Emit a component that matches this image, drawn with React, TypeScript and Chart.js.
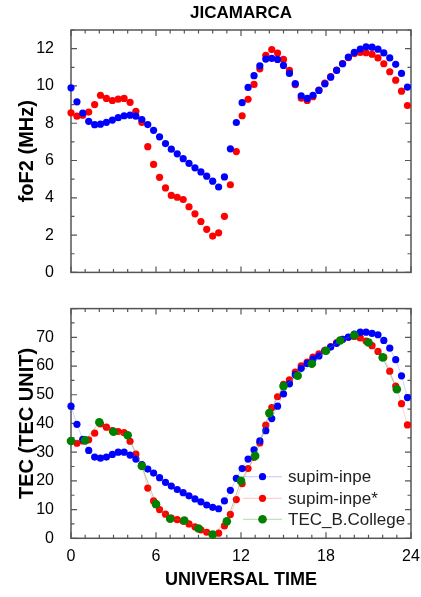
import React, { useEffect, useRef } from 'react';
import { Chart, registerables } from 'chart.js';

Chart.register(...registerables);

// Universal time (hours) of model points
const hours = [
  0, 0.42, 0.83, 1.25, 1.67, 2.08, 2.5, 2.92, 3.33, 3.75, 4.17, 4.58, 5, 5.42, 5.83,
  6.25, 6.67, 7.08, 7.5, 7.92, 8.33, 8.75, 9.17, 9.58, 10, 10.42, 10.83, 11.25, 11.67,
  12.08, 12.5, 12.92, 13.33, 13.75, 14.17, 14.58, 15, 15.42, 15.83, 16.25, 16.67, 17.08,
  17.5, 17.92, 18.33, 18.75, 19.17, 19.58, 20, 20.42, 20.83, 21.25, 21.67, 22.08, 22.5,
  22.92, 23.33, 23.75,
];

const foF2Inpe = [
  9.9, 9.15, 8.55, 8.1, 7.92, 7.95, 8.05, 8.17, 8.3, 8.4, 8.43, 8.38, 8.2, 7.93, 7.62,
  7.27, 6.91, 6.61, 6.36, 6.1, 5.85, 5.61, 5.39, 5.16, 4.89, 4.58, 5.12, 6.63, 8.04,
  9.1, 9.92, 10.55, 11.08, 11.44, 11.48, 11.42, 11.1, 10.67, 10.12, 9.47, 9.33, 9.5,
  9.76, 10.11, 10.47, 10.83, 11.19, 11.54, 11.8, 11.98, 12.1, 12.08, 11.97, 11.77, 11.5,
  11.16, 10.67, 9.94,
];

const foF2InpeStar = [
  8.56, 8.38, 8.43, 8.6, 9.0, 9.5, 9.33, 9.22, 9.29, 9.33, 9.12, 8.64, 8.05, 6.74, 5.79,
  5.1, 4.53, 4.13, 4.03, 3.91, 3.52, 3.14, 2.73, 2.31, 1.95, 2.12, 3.01, 4.7, 6.48,
  8.4, 9.28, 10.08, 10.92, 11.64, 11.95, 11.76, 11.42, 10.83, 10.07, 9.35, 9.22, 9.42,
  9.78, 10.15, 10.5, 10.85, 11.2, 11.52, 11.74, 11.8, 11.78, 11.7, 11.5, 11.19, 10.76,
  10.31, 9.72, 8.95,
];

const tecInpe = [
  46.0, 39.7, 34.5, 30.6, 28.3, 27.9, 28.3, 29.2, 30.0, 30.0, 29.0, 27.6, 25.7, 24.1, 22.7,
  21.1, 19.5, 18.2, 17.0, 15.9, 14.8, 13.7, 12.7, 11.6, 10.8, 10.3, 13.0, 16.7, 20.9,
  24.3, 27.6, 30.8, 33.9, 37.5, 41.7, 46.0, 50.3, 53.8, 57.0, 59.2, 60.9, 62.4,
  63.5, 65.3, 66.6, 67.9, 69.3, 70.1, 71.1, 71.8, 71.8, 71.4, 70.9, 68.9, 66.2,
  62.2, 56.6, 49.0,
];

const tecInpeStar = [
  33.9, 33.1, 33.9, 34.3, 36.6, 39.8, 38.7, 37.5, 37.2, 36.8, 33.8, 29.3, 25.5, 17.5, 13.0,
  10.0, 8.4, 7.0, 6.5, 5.9, 5.0, 4.0, 2.9, 2.1, 1.2, 1.8, 4.3, 8.3, 13.5,
  19.0, 24.3, 28.2, 33.2, 39.4, 45.5, 49.3, 53.6, 55.2, 57.9, 60.1, 61.4, 63.1,
  64.2, 65.5, 66.8, 68.2, 69.3, 70.0, 70.3, 69.8, 68.7, 67.1, 65.1, 63.0, 58.2,
  53.0, 46.9, 39.5,
];

// Observed TEC (hourly)
const collegeHours = [0, 1, 2, 3, 4, 5, 6, 7, 8, 9, 10, 11, 12, 13, 14, 15, 16, 17, 18, 19, 20, 21, 22, 23];
const tecCollege = [
  33.9, 34.1, 40.4, 37.1, 35.9, 25.2, 11.9, 6.8, 6.2, 3.4, 1.3, 5.9, 20.0, 28.7, 43.6,
  53.0, 56.6, 60.8, 65.3, 68.9, 70.7, 68.2, 63.0, 51.9,
];

const seriesLabels = ['supim-inpe', 'supim-inpe*', 'TEC_B.College'];
const chartTitle = 'JICAMARCA';
const topYTitle = 'foF2 (MHz)';
const bottomYTitle = 'TEC (TEC UNIT)';
const xTitle = 'UNIVERSAL TIME';

const FONT = "'Liberation Sans', Arial, Helvetica, sans-serif";
const BLUE = '#0000ff';
const RED = '#ff0000';
const GREEN = '#008000';
const R_MODEL = 3.6;
const R_OBS = 4.3;

const pts = (xs: number[], ys: number[]) => xs.map((x, i) => ({ x, y: ys[i] }));

function framePlugin(yMinor: number, yMajor: number) {
  return {
    id: 'frame',
    beforeDatasetsDraw(chart: any) {
      const { ctx, chartArea: a, scales } = chart;
      const xs = scales.x;
      const ys = scales.y;
      ctx.save();
      ctx.strokeStyle = '#555';
      ctx.lineWidth = 1.5;
      ctx.strokeRect(a.left, a.top, a.right - a.left, a.bottom - a.top);
      ctx.lineWidth = 1.2;
      ctx.beginPath();
      for (let h = xs.min; h <= xs.max + 1e-6; h += 1) {
        const px = xs.getPixelForValue(h);
        const len = h % 6 === 0 ? 6 : 3.5;
        ctx.moveTo(px, a.bottom);
        ctx.lineTo(px, a.bottom - len);
        ctx.moveTo(px, a.top);
        ctx.lineTo(px, a.top + len);
      }
      for (let v = ys.min; v <= ys.max + 1e-6; v += yMinor) {
        const py = ys.getPixelForValue(v);
        const len = Math.abs(v % yMajor) < 1e-6 ? 6 : 3.5;
        ctx.moveTo(a.left, py);
        ctx.lineTo(a.left + len, py);
        ctx.moveTo(a.right, py);
        ctx.lineTo(a.right - len, py);
      }
      ctx.stroke();
      ctx.restore();
    },
  };
}

const titlePlugin = {
  id: 'topTitle',
  afterDraw(chart: any) {
    const { ctx, chartArea: a } = chart;
    ctx.save();
    ctx.font = `bold 17px ${FONT}`;
    ctx.fillStyle = '#000';
    ctx.textAlign = 'center';
    ctx.textBaseline = 'middle';
    ctx.fillText(chartTitle, (a.left + a.right) / 2, 13);
    ctx.restore();
  },
};

const legendPlugin = {
  id: 'lineLegend',
  afterDatasetsDraw(chart: any) {
    const { ctx, chartArea: a } = chart;
    const rows = [
      { dy: 61.6, color: BLUE, line: 'rgba(120,130,255,0.45)', r: R_MODEL },
      { dy: 40, color: RED, line: 'rgba(255,120,120,0.45)', r: R_MODEL },
      { dy: 19, color: GREEN, line: 'rgba(60,160,60,0.4)', r: R_OBS },
    ];
    ctx.save();
    rows.forEach((row, i) => {
      const y = a.bottom - row.dy;
      const x0 = a.left + 172;
      ctx.strokeStyle = row.line;
      ctx.lineWidth = 1;
      ctx.beginPath();
      ctx.moveTo(x0, y);
      ctx.lineTo(x0 + 39, y);
      ctx.stroke();
      ctx.fillStyle = row.color;
      ctx.beginPath();
      ctx.arc(x0 + 19.5, y, row.r, 0, Math.PI * 2);
      ctx.fill();
      ctx.fillStyle = '#222';
      ctx.font = `17px ${FONT}`;
      ctx.textAlign = 'left';
      ctx.textBaseline = 'middle';
      ctx.fillText(seriesLabels[i], x0 + 45, y + 1);
    });
    ctx.restore();
  },
};

const yTitle = (text: string) => ({
  display: true,
  text,
  color: '#000',
  font: { family: FONT, size: 20, weight: 'bold' as const },
  padding: { top: 15, bottom: 0 },
});

export default function App() {
  const topRef = useRef<HTMLCanvasElement>(null);
  const botRef = useRef<HTMLCanvasElement>(null);

  useEffect(() => {
    const top = new Chart(topRef.current!, {
      type: 'scatter',
      data: {
        datasets: [
          {
            label: seriesLabels[0],
            data: pts(hours, foF2Inpe),
            backgroundColor: BLUE,
            pointRadius: R_MODEL,
            pointBorderWidth: 0,
            showLine: false,
            clip: false as any,
            order: 1,
          },
          {
            label: seriesLabels[1],
            data: pts(hours, foF2InpeStar),
            backgroundColor: RED,
            pointRadius: R_MODEL,
            pointBorderWidth: 0,
            showLine: false,
            clip: false as any,
            order: 2,
          },
        ],
      },
      options: {
        animation: false,
        responsive: false,
        devicePixelRatio: 1,
        layout: { padding: { left: 0, right: 10, top: 30, bottom: 10 } },
        plugins: { legend: { display: false }, tooltip: { enabled: false } },
        scales: {
          x: { type: 'linear', min: 0, max: 24, display: false },
          y: {
            min: 0,
            max: 13,
            afterFit: (s: any) => { s.width = 71; },
            grid: { display: false },
            border: { display: false },
            ticks: {
              stepSize: 2,
              includeBounds: false,
              color: '#000',
              padding: 9,
              font: { family: FONT, size: 16 },
              callback: (v: any) => (Number(v) % 2 === 0 ? String(v) : null),
            },
            title: yTitle(topYTitle),
          },
        },
      },
      plugins: [framePlugin(1, 2), titlePlugin],
    } as any);

    const bot = new Chart(botRef.current!, {
      type: 'scatter',
      data: {
        datasets: [
          {
            label: seriesLabels[0],
            data: pts(hours, tecInpe),
            backgroundColor: BLUE,
            borderColor: 'rgba(120,130,255,0.35)',
            borderWidth: 1,
            pointRadius: R_MODEL,
            pointBorderWidth: 0,
            showLine: true,
            clip: false as any,
            order: 1,
          },
          {
            label: seriesLabels[1],
            data: pts(hours, tecInpeStar),
            backgroundColor: RED,
            borderColor: 'rgba(255,120,120,0.35)',
            borderWidth: 1,
            pointRadius: R_MODEL,
            pointBorderWidth: 0,
            showLine: true,
            clip: false as any,
            order: 2,
          },
          {
            label: seriesLabels[2],
            data: pts(collegeHours, tecCollege),
            backgroundColor: GREEN,
            borderColor: 'rgba(60,160,60,0.45)',
            borderWidth: 1,
            pointRadius: R_OBS,
            pointBorderWidth: 0,
            showLine: true,
            clip: false as any,
            order: 0,
          },
        ],
      },
      options: {
        animation: false,
        responsive: false,
        devicePixelRatio: 1,
        layout: { padding: { left: 0, right: 10, top: 3.3, bottom: 0 } },
        plugins: { legend: { display: false }, tooltip: { enabled: false } },
        scales: {
          x: {
            type: 'linear',
            min: 0,
            max: 24,
            afterFit: (s: any) => { s.height = 58.7; },
            grid: { display: false },
            border: { display: false },
            ticks: {
              stepSize: 6,
              color: '#000',
              padding: 1,
              maxRotation: 0,
              font: { family: FONT, size: 16 },
            },
            title: {
              display: true,
              text: xTitle,
              color: '#000',
              font: { family: FONT, size: 18, weight: 'bold' },
              padding: { top: 0, bottom: 6 },
            },
          },
          y: {
            min: 0,
            max: 80,
            afterFit: (s: any) => { s.width = 71; },
            grid: { display: false },
            border: { display: false },
            ticks: {
              stepSize: 10,
              color: '#000',
              padding: 9,
              font: { family: FONT, size: 16 },
              callback: (v: any) => (Number(v) >= 80 ? null : String(v)),
            },
            title: yTitle(bottomYTitle),
          },
        },
      },
      plugins: [framePlugin(5, 10), legendPlugin],
    } as any);

    return () => {
      top.destroy();
      bot.destroy();
    };
  }, []);

  return (
    <div style={{ position: 'absolute', left: 0, top: 0, width: 421, height: 597, background: '#fff' }}>
      <canvas ref={topRef} width={421} height={291} style={{ position: 'absolute', left: 0, top: 0 }} />
      <canvas ref={botRef} width={421} height={307} style={{ position: 'absolute', left: 0, top: 290 }} />
    </div>
  );
}
